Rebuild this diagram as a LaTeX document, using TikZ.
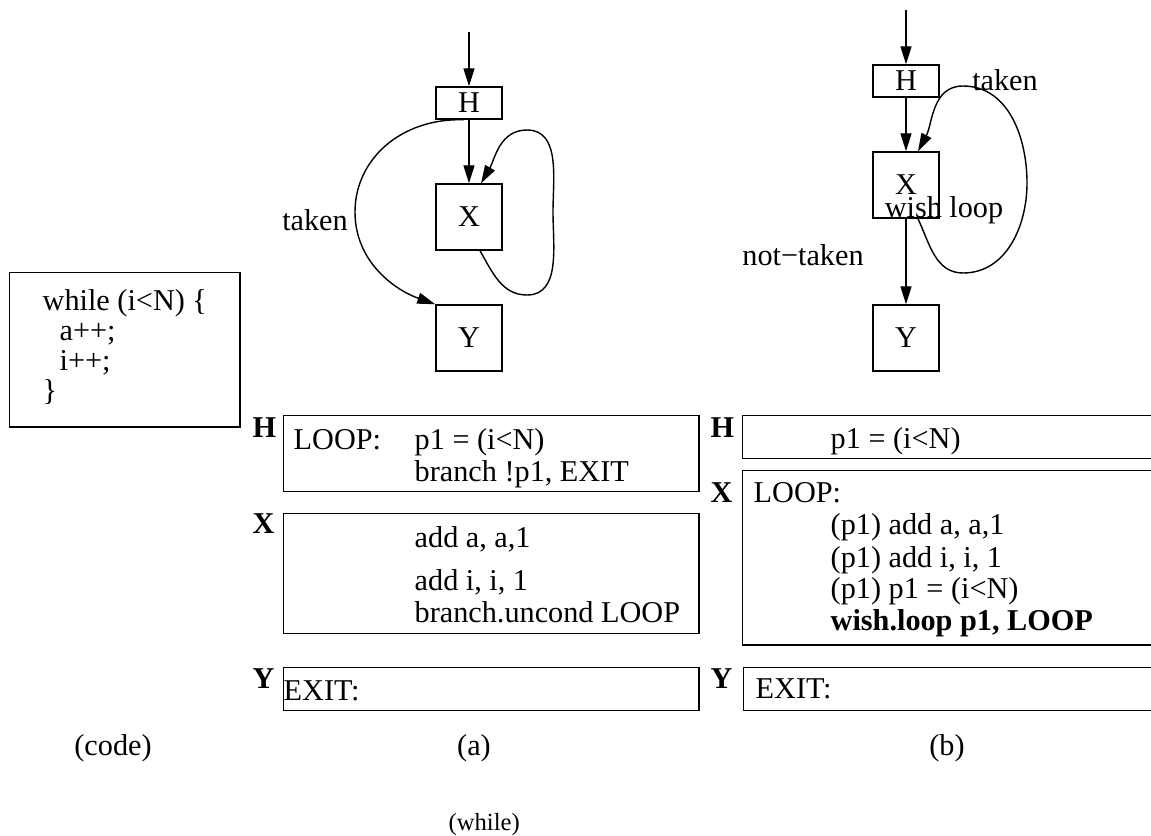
\documentclass[tikz,border=0pt]{standalone}
\usepackage{fontspec}
\setmainfont{Liberation Serif}
\usetikzlibrary{positioning,arrows.meta}
\newcommand{\figfont}{\fontsize{8.6}{10}\selectfont}
\tikzset{
  every picture/.style={line width=0.4pt},
  blk/.style={draw,rectangle,minimum width=6.6mm,minimum height=6.6mm,inner sep=0},
  hdr/.style={blk,minimum height=3.2mm},
  cbox/.style={draw,rectangle,anchor=north west,inner sep=0},
  txt/.style={anchor=base west,inner sep=0},
  tag/.style={anchor=base west,inner sep=0,font=\figfont\bfseries},
  lbl/.style={inner sep=0},
  subcap/.style={anchor=base,inner sep=0},
  flow/.style={-{Triangle[length=1.8mm,width=1.1mm]}},
}

\begin{document}
\begin{tikzpicture}[x=0.01cm,y=-0.01cm,font=\figfont]
\clip (0,0) rectangle (1151,836);
% --- source code ---
\node[cbox,minimum width=2.3cm,minimum height=1.54cm] (src) at (9,272) {};
\node[txt] (s1) at (42,310) {while (i<N) \{};
\node[txt] (s2) at (59,340) {a++;};
\node[txt] (s3) at (59,370) {i++;};
\node[txt] (s4) at (42,400) {\}};
% --- graph (a) ---
\node[hdr] (Ha) at (469,103) {H};
\node[blk] (Xa) at (469,217) {X};
\node[blk] (Ya) at (469,338) {Y};
\coordinate (ina) at (469,32);
\draw[flow] (ina) -- (Ha);
\draw[flow] (Ha) -- (Xa);
\draw[flow] ([xshift=-0.05cm]Ha.south) .. controls (400,118) and (355,160) .. (355,212)
  .. controls (355,262) and (395,290) .. (Ya.north west);
\draw[flow] ([xshift=1.1mm]Xa.south) to[out=-60,in=180] (527,295) to[out=0,in=-90] (553,212)
  to[out=90,in=0] (527,130) to[out=180,in=60] ([xshift=1.2mm]Xa.north);
\node[lbl] (tka) at (315,220) {taken};
% --- graph (b) ---
\node[hdr] (Hb) at (906,81) {H};
\node[blk] (Xb) at (906,185) {X};
\node[blk] (Yb) at (906,338) {Y};
\coordinate (inb) at (906,10);
\draw[flow] (inb) -- (Hb);
\draw[flow] (Hb) -- (Xb);
\draw[flow] (Xb) -- (Yb);
\draw[flow] ([xshift=1.2mm]Xb.south) to[out=-65,in=180] (963,273) to[out=0,in=-90] (1027,183)
  to[out=90,in=0] (963,86) to[out=180,in=62] ([xshift=1.2mm]Xb.north);
\node[lbl] (tkb) at (1005,80) {taken};
\node[lbl] (wsh) at (944,210) {wish loop};
\node[lbl] (ntk) at (803,255) {not−taken};
% --- code (a) ---
\node[tag] (tHa) at (252,437) {H};
\node[cbox,minimum width=4.15cm,minimum height=0.76cm] (bHa) at (283,415) {};
\node[txt] (a1) at (293,449) {LOOP:};
\node[txt] (a2) at (414,449) {p1 = (i<N)};
\node[txt] (a3) at (414,481) {branch !p1, EXIT};
\node[tag] (tXa) at (252,533) {X};
\node[cbox,minimum width=4.15cm,minimum height=1.2cm] (bXa) at (283,513) {};
\node[txt] (a4) at (414,547) {add a, a,1};
\node[txt] (a5) at (414,590) {add i, i, 1};
\node[txt] (a6) at (414,622) {branch.uncond LOOP};
\node[tag] (tYa) at (252,688) {Y};
\node[cbox,minimum width=4.15cm,minimum height=0.43cm] (bYa) at (283,667) {};
\node[txt] (a7) at (283,700) {EXIT:};
% --- code (b) ---
\node[tag] (tHb) at (710,437) {H};
\node[cbox,minimum width=4.2cm,minimum height=0.43cm] (bHb) at (742,415) {};
\node[txt] (b1) at (830,448) {p1 = (i<N)};
\node[tag] (tXb) at (710,502) {X};
\node[cbox,minimum width=4.2cm,minimum height=1.74cm] (bXb) at (742,470) {};
\node[txt] (b2) at (753,502) {LOOP:};
\node[txt] (b3) at (830,534) {(p1) add a, a,1};
\node[txt] (b4) at (830,567) {(p1) add i, i, 1};
\node[txt] (b5) at (830,598) {(p1) p1 = (i<N)};
\node[txt] (b6) at (830,630) {\bfseries wish.loop p1, LOOP};
\node[tag] (tYb) at (710,688) {Y};
\node[cbox,minimum width=4.2cm,minimum height=0.43cm] (bYb) at (743,667) {};
\node[txt] (b7) at (755,698) {EXIT:};
% captions
\node[subcap] (cc) at (113,755) {(code)};
\node[subcap] (ca) at (474,755) {(a)};
\node[subcap] (cb) at (947,755) {(b)};
\node[txt,font=\fontsize{7}{8}\selectfont] (cw) at (448,830) {(while)};
\end{tikzpicture}
\end{document}
